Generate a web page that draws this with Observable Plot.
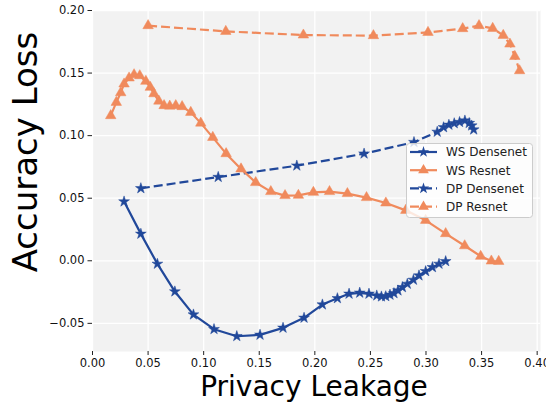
<!DOCTYPE html>
<html>
<head>
<meta charset="utf-8">
<script src="https://cdn.jsdelivr.net/npm/d3@7"></script>
<script src="https://cdn.jsdelivr.net/npm/@observablehq/plot@0.6"></script>
<style>
  html, body { margin: 0; padding: 0; background: #fff; }
  #wrap { position: relative; width: 546px; height: 403px; overflow: hidden; font-family: "DejaVu Sans", sans-serif; }
  #chart svg { display: block; }
  .lab { position: absolute; color: #000; white-space: nowrap; font-family: "DejaVu Sans", sans-serif; }
  #legend { position: absolute; }
</style>
</head>
<body>
<div id="wrap">
  <div id="chart"></div>
  <div class="lab" id="ylab">Accuracy Loss</div>
  <div class="lab" id="xlab">Privacy Leakage</div>
  <div id="legend"></div>
</div>
<script>
// ---- data ----
const seriesNames = ["WS Densenet", "WS Resnet", "DP Densenet", "DP Resnet"];

const wsDensenetX = [0.0284, 0.0435, 0.0584, 0.0741, 0.0908, 0.1093, 0.1298, 0.1507, 0.1714, 0.1903,
  0.2068, 0.2203, 0.2308, 0.2404, 0.2487, 0.2557, 0.2599, 0.2638, 0.2676, 0.2712,
  0.2748, 0.2788, 0.2832, 0.2887, 0.2937, 0.2997, 0.3058, 0.3117, 0.3177];
const wsDensenetY = [0.0473, 0.0215, -0.0025, -0.0246, -0.0430, -0.0547, -0.0603, -0.0592, -0.0536, -0.0456,
  -0.0350, -0.0300, -0.0264, -0.0256, -0.0264, -0.0278, -0.0286, -0.0284, -0.0272, -0.0260,
  -0.0238, -0.0212, -0.0185, -0.0153, -0.0118, -0.0084, -0.0052, -0.0025, -0.0004];

const wsResnetX = [0.0164, 0.0214, 0.0254, 0.0284, 0.0329, 0.0374, 0.0425, 0.0480, 0.0520, 0.0553,
  0.0597, 0.0644, 0.0695, 0.0749, 0.0806, 0.0884, 0.0974, 0.1082, 0.1202, 0.1336,
  0.1468, 0.1604, 0.1732, 0.1852, 0.1987, 0.2132, 0.2293, 0.2465, 0.2639, 0.2818,
  0.2997, 0.3177, 0.3348, 0.3492, 0.3588, 0.3654];
const wsResnetY = [0.1160, 0.1266, 0.1343, 0.1413, 0.1461, 0.1487, 0.1479, 0.1434, 0.1386, 0.1335,
  0.1276, 0.1240, 0.1236, 0.1240, 0.1232, 0.1186, 0.1100, 0.0986, 0.0856, 0.0734,
  0.0625, 0.0553, 0.0521, 0.0523, 0.0547, 0.0553, 0.0537, 0.0505, 0.0462, 0.0403,
  0.0323, 0.0217, 0.0120, 0.0036, -0.0002, -0.0005];

const dpDensenetX = [0.0435, 0.1131, 0.1838, 0.2443, 0.2892, 0.3101, 0.3158, 0.3206, 0.3254, 0.3302,
  0.3350, 0.3389, 0.3411, 0.3429];
const dpDensenetY = [0.0579, 0.0669, 0.0760, 0.0856, 0.0948, 0.1030, 0.1066, 0.1086, 0.1098, 0.1108,
  0.1120, 0.1100, 0.1080, 0.1048];

const dpResnetX = [0.0500, 0.1199, 0.1897, 0.2527, 0.3018, 0.3330, 0.3477, 0.3600, 0.3695, 0.3755,
  0.3799, 0.3842];
const dpResnetY = [0.1879, 0.1833, 0.1804, 0.1799, 0.1825, 0.1855, 0.1879, 0.1857, 0.1801, 0.1732,
  0.1633, 0.1519];

const xTicks = [0.00, 0.05, 0.10, 0.15, 0.20, 0.25, 0.30, 0.35, 0.40];
const yTicks = [-0.05, 0.00, 0.05, 0.10, 0.15, 0.20];
const xLabel = "Privacy Leakage";
const yLabel = "Accuracy Loss";

// ---- build table ----
const BLUE = "#21489a", ORANGE = "#f08a5c";
const style = {
  "WS Densenet": {color: BLUE, symbol: "star", dash: null, r: 3.4},
  "WS Resnet": {color: ORANGE, symbol: "triangle", dash: null, r: 3.9},
  "DP Densenet": {color: BLUE, symbol: "star", dash: "9,4", r: 3.4},
  "DP Resnet": {color: ORANGE, symbol: "triangle", dash: "9,4", r: 3.9}
};
const zip = (name, xs, ys) => xs.map((x, i) => ({series: name, x, y: ys[i]}));
const series = {
  "WS Densenet": zip("WS Densenet", wsDensenetX, wsDensenetY),
  "WS Resnet": zip("WS Resnet", wsResnetX, wsResnetY),
  "DP Densenet": zip("DP Densenet", dpDensenetX, dpDensenetY),
  "DP Resnet": zip("DP Resnet", dpResnetX, dpResnetY)
};

const marks = [
  Plot.frame({fill: "#f2f2f2", stroke: null}),
  Plot.gridX(xTicks, {stroke: "#ffffff", strokeOpacity: 1, strokeWidth: 1.3}),
  Plot.gridY(yTicks, {stroke: "#ffffff", strokeOpacity: 1, strokeWidth: 1.3}),
  Plot.axisX(xTicks, {tickFormat: d3.format(".2f"), tickSize: 4, tickPadding: 3, fontSize: 11.5, label: null, stroke: "#222"}),
  Plot.axisY(yTicks, {tickFormat: d3.format(".2f"), tickSize: 4.5, tickPadding: 3.5, fontSize: 11.5, label: null, stroke: "#222"})
];
for (const name of ["DP Resnet", "DP Densenet", "WS Resnet", "WS Densenet"]) {
  const s = style[name];
  marks.push(Plot.line(series[name], {x: "x", y: "y", stroke: s.color, strokeWidth: 2.2,
    strokeDasharray: s.dash, strokeLinejoin: "round", strokeLinecap: "butt"}));
  marks.push(Plot.dot(series[name], {x: "x", y: "y", symbol: s.symbol, fill: s.color, stroke: s.color,
    strokeWidth: 0.5, r: s.r}));
}

const chart = Plot.plot({
  width: 546,
  height: 403,
  marginLeft: 92,
  marginRight: 6,
  marginTop: 10,
  marginBottom: 52,
  style: {fontFamily: "DejaVu Sans, sans-serif", fontSize: "11.5px", color: "#111", background: "white"},
  x: {domain: [0, 0.403]},
  y: {domain: [-0.0725, 0.2]},
  marks
});
document.getElementById("chart").appendChild(chart);

// ---- axis titles ----
const ylab = document.getElementById("ylab");
ylab.style.fontSize = "34px";
ylab.style.left = "25px";
ylab.style.top = "152px";
ylab.style.transform = "translate(-50%, -50%) rotate(-90deg)";
const xlab = document.getElementById("xlab");
xlab.style.fontSize = "28px";
xlab.style.left = "314px";
xlab.style.top = "386px";
xlab.style.transform = "translate(-50%, -50%)";

// ---- legend ----
const lg = d3.select("#legend")
  .style("left", "406px").style("top", "143px");
const W = 127, H = 75;
const svg = lg.append("svg").attr("width", W).attr("height", H);
svg.append("rect").attr("x", 0.5).attr("y", 0.5).attr("width", W - 1).attr("height", H - 1)
  .attr("rx", 3).attr("fill", "rgba(255,255,255,0.8)").attr("stroke", "#cccccc");
const sym = {star: d3.symbolStar, triangle: d3.symbolTriangle};
seriesNames.forEach((name, i) => {
  const s = style[name];
  const cy = 9 + i * 18.2;
  svg.append("line").attr("x1", 4).attr("x2", 31).attr("y1", cy).attr("y2", cy)
    .attr("stroke", s.color).attr("stroke-width", 2.2).attr("stroke-dasharray", s.dash);
  const area = s.symbol === "star" ? 40 : 50;
  svg.append("path").attr("d", d3.symbol(sym[s.symbol], area)()).attr("transform", `translate(17.5,${cy})`)
    .attr("fill", s.color);
  svg.append("text").attr("x", 40).attr("y", cy).attr("dy", "0.36em")
    .attr("font-family", "DejaVu Sans, sans-serif").attr("font-size", 12).attr("fill", "#222").text(name);
});
</script>
</body>
</html>
